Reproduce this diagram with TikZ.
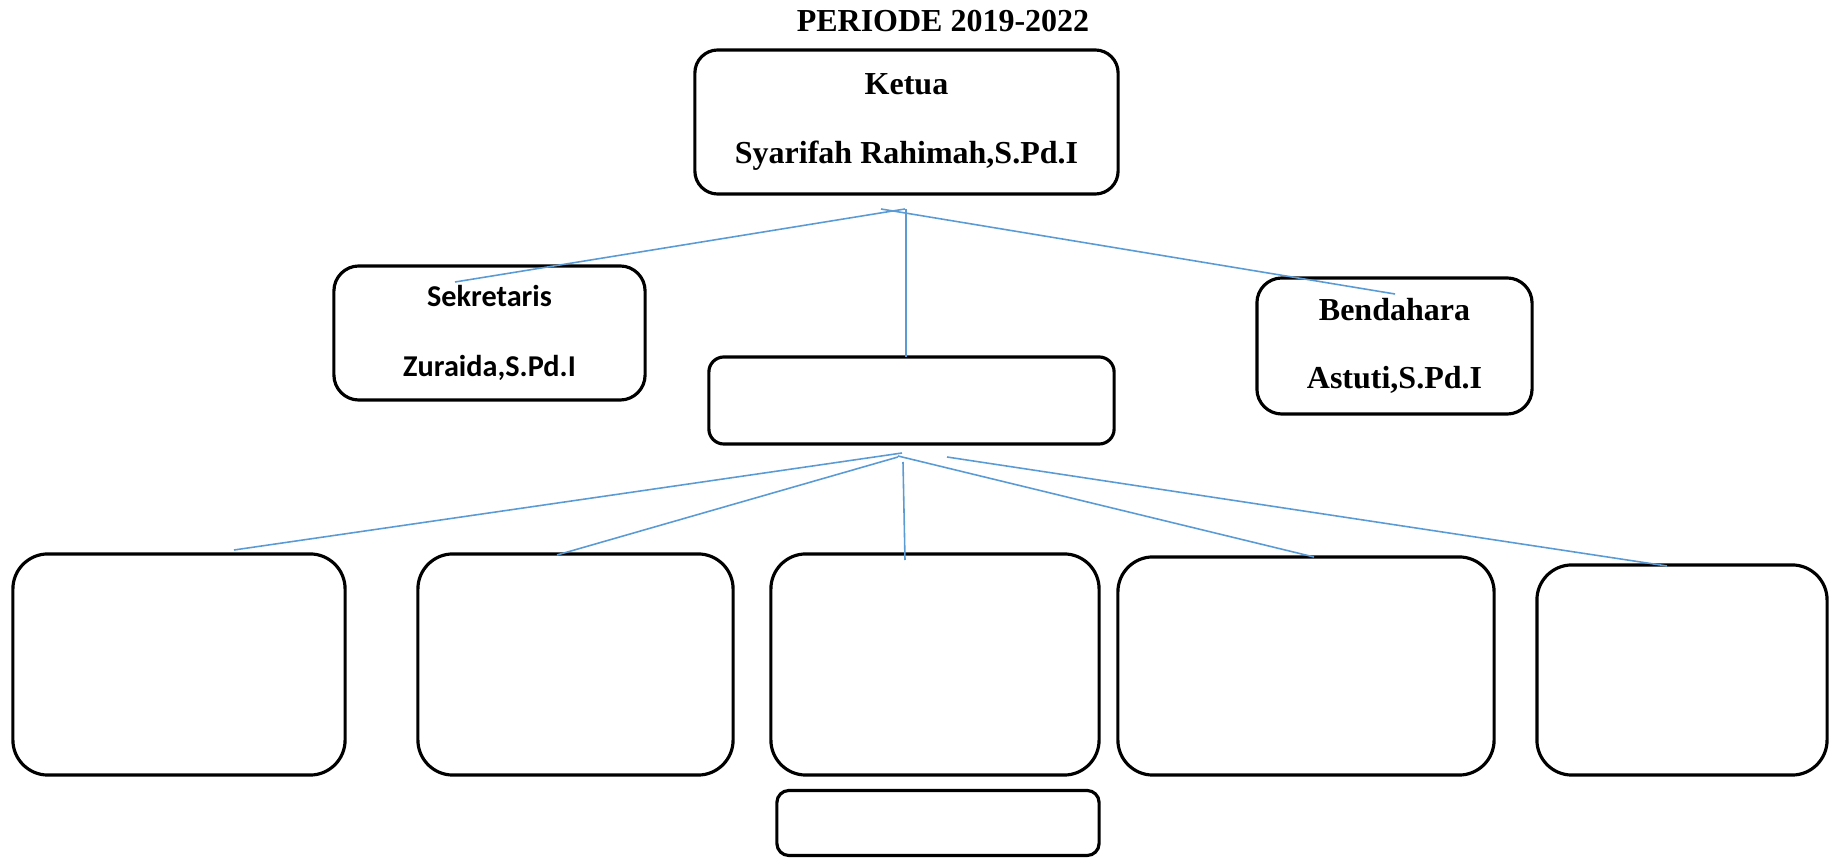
\documentclass[tikz,border=0pt]{standalone}
\usepackage{fontspec}
\setmainfont{Liberation Serif}
\newfontfamily\sansbox{Carlito}
\usetikzlibrary{positioning}

\definecolor{garisbiru}{HTML}{5B9BD5}

\tikzset{
    kotak/.style={draw=black, line width=0.9pt, rounded corners=#1, inner sep=0pt},
    kotak/.default=0.25cm,
    judul/.style={font=\bfseries\fontsize{9.1}{19.4}\selectfont, align=center},
    judulsans/.style={font=\sansbox\bfseries\fontsize{8.6}{19.8}\selectfont, align=center},
    garis/.style={draw=garisbiru, line width=0.45pt}
}

\begin{document}
\begin{tikzpicture}[x=0.01cm, y=-0.01cm]

    \useasboundingbox (0,0) rectangle (1829,858);

    %% Pengurus inti

    % Judul
    \node[judul] (periode) at (943,21) {PERIODE 2019-2022};

    % Ketua, sekretaris, bendahara
    \node[kotak=0.23cm, judul, minimum width=4.23cm, minimum height=1.44cm] (ketua) at (906.5,122)
        {Ketua\\Syarifah Rahimah,S.Pd.I};
    \node[kotak, judulsans, minimum width=3.11cm, minimum height=1.34cm] (sekretaris) at (489.5,333)
        {Sekretaris\\Zuraida,S.Pd.I};
    \node[kotak, judul, minimum width=2.75cm, minimum height=1.36cm] (bendahara) at (1394.5,346)
        {Bendahara\\Astuti,S.Pd.I};

    % Kotak tengah
    \node[kotak=0.15cm, minimum width=4.05cm, minimum height=0.87cm] (tengah) at (911.5,400.5) {};

    %% Seksi-seksi

    \node[kotak=0.35cm, minimum width=3.32cm, minimum height=2.21cm] (seksiA) at (179,664.5) {};
    \node[kotak=0.35cm, minimum width=3.15cm, minimum height=2.21cm] (seksiB) at (575.5,664.5) {};
    \node[kotak=0.35cm, minimum width=3.28cm, minimum height=2.21cm] (seksiC) at (935,664.5) {};
    \node[kotak=0.35cm, minimum width=3.76cm, minimum height=2.18cm] (seksiD) at (1306,666) {};
    \node[kotak=0.35cm, minimum width=2.90cm, minimum height=2.10cm] (seksiE) at (1682,670) {};
    \node[kotak=0.12cm, minimum width=3.22cm, minimum height=0.65cm] (catatan) at (938,823) {};

    %% Garis penghubung

    % Titik ujung dari ketua
    \coordinate (kA) at (905,209);
    \coordinate (kB) at (881,209);
    \coordinate (kC) at (906,209);
    \coordinate (ujungSek) at (455,282);
    \coordinate (ujungBen) at (1395,294);
    \coordinate (ujungTengah) at (906,357);

    \draw[garis] (kA) -- (ujungSek);
    \draw[garis] (kB) -- (ujungBen);
    \draw[garis] (kC) -- (ujungTengah);

    % Titik ujung dari kotak tengah
    \coordinate (t1) at (902,453);
    \coordinate (t2) at (898,457);
    \coordinate (t3) at (903,462);
    \coordinate (t4) at (898,456);
    \coordinate (t5) at (947,457);
    \coordinate (uA) at (234,550);
    \coordinate (uB) at (557,555);
    \coordinate (uC) at (905,560);
    \coordinate (uD) at (1314,557);
    \coordinate (uE) at (1667,566);

    \draw[garis] (t1) -- (uA);
    \draw[garis] (t2) -- (uB);
    \draw[garis] (t3) -- (uC);
    \draw[garis] (t4) -- (uD);
    \draw[garis] (t5) -- (uE);

\end{tikzpicture}
\end{document}
